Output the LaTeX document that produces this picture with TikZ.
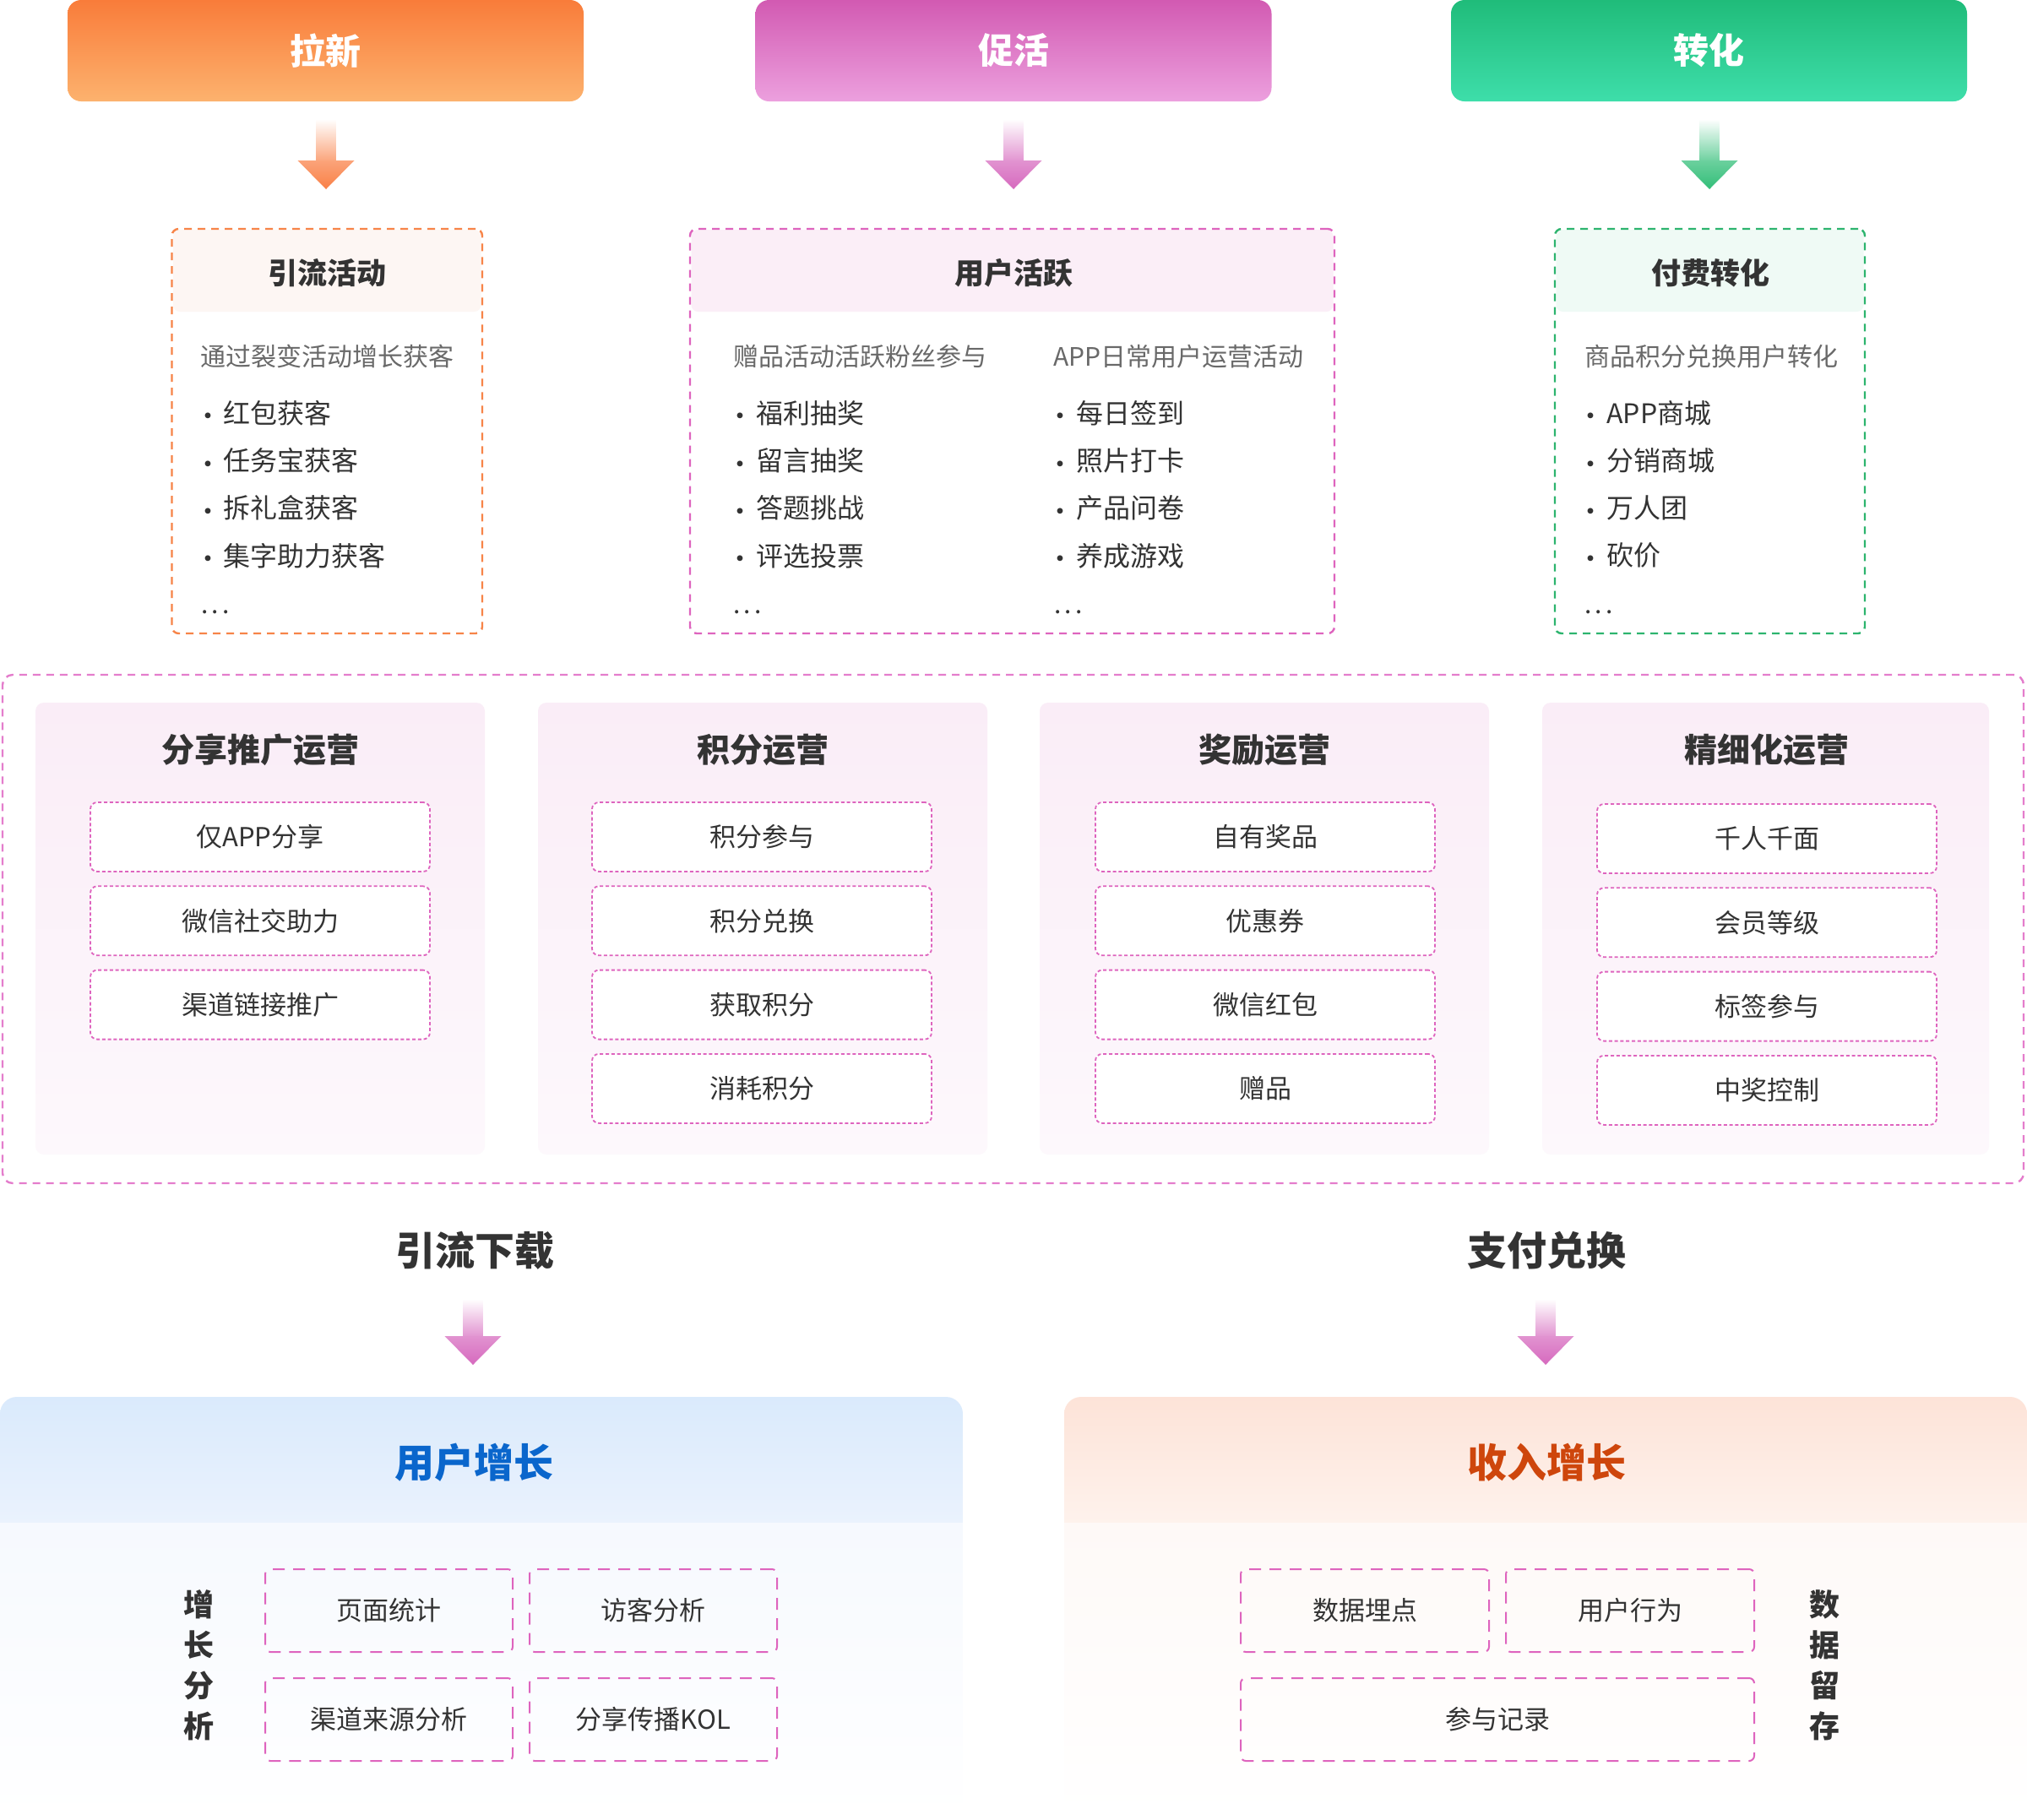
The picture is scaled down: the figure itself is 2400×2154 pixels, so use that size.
\documentclass[tikz,border=0pt]{standalone}
\usepackage{fontspec}
\setmainfont{Noto Sans CJK SC}
\usetikzlibrary{calc}
\definecolor{txt}{RGB}{51,51,51}
\definecolor{sub}{RGB}{105,105,105}
\definecolor{orT}{RGB}{249,124,58}
\definecolor{orB}{RGB}{252,178,110}
\definecolor{pkT}{RGB}{210,90,178}
\definecolor{pkB}{RGB}{236,160,222}
\definecolor{grT}{RGB}{32,188,122}
\definecolor{grB}{RGB}{62,222,170}
\definecolor{orA}{RGB}{249,128,70}
\definecolor{pkA}{RGB}{214,105,190}
\definecolor{grA}{RGB}{50,190,120}
\definecolor{orD}{RGB}{247,132,72}
\definecolor{pkD}{RGB}{222,100,190}
\definecolor{pkL}{RGB}{228,125,204}
\definecolor{grD}{RGB}{45,180,110}
\definecolor{hdOr}{RGB}{253,246,243}
\definecolor{hdPk}{RGB}{251,238,247}
\definecolor{hdGr}{RGB}{239,250,245}
\definecolor{pnT}{RGB}{250,237,247}
\definecolor{pnB}{RGB}{253,248,252}
\definecolor{blT}{RGB}{218,234,252}
\definecolor{blM}{RGB}{234,242,253}
\definecolor{blS}{RGB}{246,249,254}
\definecolor{peT}{RGB}{253,227,216}
\definecolor{peM}{RGB}{254,242,236}
\definecolor{peS}{RGB}{254,249,247}
\definecolor{blueTxt}{RGB}{10,102,204}
\definecolor{redTxt}{RGB}{206,70,12}
\newcommand\fatarrow[3]{%
  \path let \p1=(#1), \p2=(#2) in
    [top color=white, bottom color=#3!70] (\x1-5.75pt,\y1) rectangle (\x1+5.75pt,\y2+17pt);
  \path let \p1=(#1), \p2=(#2) in
    [top color=#3!72, bottom color=#3] (\x1-16.75pt,\y2+17pt) -- (\x1+16.75pt,\y2+17pt) -- (\x2,\y2) -- cycle;
}
\begin{document}
\begin{tikzpicture}[x=0.5pt,y=-0.5pt,
  toplab/.style={text=white,font=\bfseries\fontsize{21pt}{25pt}\selectfont,
    minimum width=305.5pt, minimum height=60pt, rounded corners=8pt, inner sep=0pt},
  actbox/.style={draw=#1, line width=1.2pt, dash pattern=on 4.5pt off 3.5pt,
    rounded corners=4pt, minimum height=239.5pt, inner sep=0pt},
  ttl/.style={text=txt,font=\bfseries\fontsize{17.5pt}{21pt}\selectfont, inner sep=0pt},
  subt/.style={text=sub,font=\fontsize{15pt}{18pt}\selectfont, anchor=west, inner sep=0pt},
  itm/.style={text=txt,font=\fontsize{16pt}{19pt}\selectfont, anchor=west, inner sep=0pt},
  bul/.style={text=txt,font=\fontsize{16pt}{19pt}\selectfont, inner sep=0pt},
  dots/.style={text=txt,font=\fontsize{15pt}{18pt}\selectfont, anchor=base west, inner sep=0pt},
  panel/.style={top color=pnT, bottom color=pnB, rounded corners=5pt,
    minimum width=266pt, minimum height=267.5pt, inner sep=0pt},
  pttl/.style={text=txt,font=\bfseries\fontsize{19.5pt}{23pt}\selectfont, inner sep=0pt},
  opbox/.style={draw=pkD, fill=white, line width=0.9pt, dash pattern=on 2pt off 1.4pt,
    rounded corners=4pt, minimum width=201pt, minimum height=41pt, inner sep=0pt,
    text=txt, font=\fontsize{15.5pt}{18pt}\selectfont},
  mid/.style={text=txt,font=\bfseries\fontsize{23.5pt}{28pt}\selectfont, inner sep=0pt},
  bigttl/.style={font=\bfseries\fontsize{23.5pt}{28pt}\selectfont, inner sep=0pt},
  vlab/.style={text=txt,font=\bfseries\fontsize{18pt}{24pt}\selectfont, align=center, inner sep=0pt},
  anbox/.style={draw=pkD, line width=1pt, dash pattern=on 7pt off 5pt,
    rounded corners=3pt, minimum height=49pt, inner sep=0pt,
    text=txt, font=\fontsize{15.5pt}{18pt}\selectfont},
]
\useasboundingbox[fill=white] (0,0) rectangle (2400,2154);

% ---------- top row ----------
\node[toplab, top color=orT, bottom color=orB] (lx) at (385.5,60) {拉新};
\node[toplab, top color=pkT, bottom color=pkB] (ch) at (1200,60) {促活};
\node[toplab, top color=grT, bottom color=grB] (zh) at (2023.5,60) {转化};

\coordinate (a1s) at (386,141);  \coordinate (a1t) at (386,224);
\coordinate (a2s) at (1200,141); \coordinate (a2t) at (1200,224);
\coordinate (a3s) at (2024,141); \coordinate (a3t) at (2024,224);
\fatarrow{a1s}{a1t}{orA}
\fatarrow{a2s}{a2t}{pkA}
\fatarrow{a3s}{a3t}{grA}

% ---------- second row ----------
\fill[hdOr, rounded corners=4pt] (205,272) rectangle (569.5,369);
\fill[hdPk, rounded corners=4pt] (818.5,272) rectangle (1578.5,369);
\fill[hdGr, rounded corners=4pt] (1842.5,272) rectangle (2206.5,369);
\node[actbox=orD, minimum width=183.75pt] (yl) at (387.25,510.5) {};
\node[actbox=pkD, minimum width=381.5pt] (yh) at (1198.5,510.5) {};
\node[actbox=grD, minimum width=183.5pt] (ff) at (2024.5,510.5) {};

\node[ttl] (ylt) at (387,323) {引流活动};
\node[ttl] (yht) at (1200,323) {用户活跃};
\node[ttl] (fft) at (2025,323) {付费转化};

\node[subt] (yls) at (237,422) {通过裂变活动增长获客};
\node[subt] (yhs1) at (868,422) {赠品活动活跃粉丝参与};
\node[subt] (yhs2) at (1247,422) {APP日常用户运营活动};
\node[subt] (ffs) at (1876,422) {商品积分兑换用户转化};

\foreach \t [count=\i] in {红包获客,任务宝获客,拆礼盒获客,集字助力获客}{
  \node[bul] (yld\i) at (246,{497+56.3*(\i-1)}) {·};
  \node[itm] (yli\i) at (264,{489+56.3*(\i-1)}) {\t};
}
\foreach \t [count=\i] in {福利抽奖,留言抽奖,答题挑战,评选投票}{
  \node[bul] (yhd\i) at (876,{497+56.3*(\i-1)}) {·};
  \node[itm] (yhi\i) at (895,{489+56.3*(\i-1)}) {\t};
}
\foreach \t [count=\i] in {每日签到,照片打卡,产品问卷,养成游戏}{
  \node[bul] (yhe\i) at (1255,{497+56.3*(\i-1)}) {·};
  \node[itm] (yhj\i) at (1274,{489+56.3*(\i-1)}) {\t};
}
\foreach \t [count=\i] in {APP商城,分销商城,万人团,砍价}{
  \node[bul] (ffd\i) at (1883,{497+56.3*(\i-1)}) {·};
  \node[itm] (ffi\i) at (1902,{489+56.3*(\i-1)}) {\t};
}
\node[dots] (yle) at (238,726) {.\kern2pt.\kern2pt.};
\node[dots] (yhe) at (868,726) {.\kern2pt.\kern2pt.};
\node[dots] (yhf) at (1248,726) {.\kern2pt.\kern2pt.};
\node[dots] (ffe) at (1876,726) {.\kern2pt.\kern2pt.};

% ---------- middle operations ----------
\node[draw=pkL, line width=1.2pt, dash pattern=on 4.5pt off 3.5pt, rounded corners=6pt,
  minimum width=1196.5pt, minimum height=301pt, inner sep=0pt] (ops) at (1199.5,1100) {};

\node[panel] (p1) at (308,1099.5) {};
\node[panel] (p2) at (903,1099.5) {};
\node[panel] (p3) at (1497,1099.5) {};
\node[panel, minimum width=264.5pt] (p4) at (2090.5,1099.5) {};

\node[pttl] (p1t) at (308,888) {分享推广运营};
\node[pttl] (p2t) at (903,888) {积分运营};
\node[pttl] (p3t) at (1497,888) {奖励运营};
\node[pttl] (p4t) at (2092,888) {精细化运营};

\foreach \t [count=\i] in {仅APP分享,微信社交助力,渠道链接推广}
  \node[opbox] (p1b\i) at (308,{991+99.3*(\i-1)}) {\t};
\foreach \t [count=\i] in {积分参与,积分兑换,获取积分,消耗积分}
  \node[opbox] (p2b\i) at (902,{991+99.3*(\i-1)}) {\t};
\foreach \t [count=\i] in {自有奖品,优惠券,微信红包,赠品}
  \node[opbox] (p3b\i) at (1498,{991+99.3*(\i-1)}) {\t};
\foreach \t [count=\i] in {千人千面,会员等级,标签参与,中奖控制}
  \node[opbox] (p4b\i) at (2092,{993+99.3*(\i-1)}) {\t};

% ---------- lower labels and arrows ----------
\node[mid] (yx) at (562,1481) {引流下载};
\node[mid] (zf) at (1831,1481) {支付兑换};
\coordinate (a4s) at (560,1538);  \coordinate (a4t) at (560,1616);
\coordinate (a5s) at (1830,1538); \coordinate (a5t) at (1830,1616);
\fatarrow{a4s}{a4t}{pkA}
\fatarrow{a5s}{a5t}{pkA}

% ---------- bottom panels ----------
\begin{scope}
  \clip[rounded corners=10pt] (0,1654) rectangle (1140,2200);
  \shade[top color=blT, bottom color=blM] (0,1654) rectangle (1140,1803);
  \shade[top color=blS, bottom color=white] (0,1803) rectangle (1140,2154);
\end{scope}
\begin{scope}
  \clip[rounded corners=10pt] (1260,1654) rectangle (2400,2200);
  \shade[top color=peT, bottom color=peM] (1260,1654) rectangle (2400,1803);
  \shade[top color=peS, bottom color=white] (1260,1803) rectangle (2400,2154);
\end{scope}
\node[bigttl, text=blueTxt] (yz) at (561,1732) {用户增长};
\node[bigttl, text=redTxt] (sr) at (1831,1732) {收入增长};

\node[vlab] (zzfx) at (235,1971.5) {增\\长\\分\\析};
\node[vlab] (sjlc) at (2160,1971.5) {数\\据\\留\\存};

\node[anbox, minimum width=146.5pt] (q1) at (460.5,1907) {页面统计};
\node[anbox, minimum width=146.5pt] (q2) at (773.5,1907) {访客分析};
\node[anbox, minimum width=146.5pt] (q3) at (460.5,2036) {渠道来源分析};
\node[anbox, minimum width=146.5pt] (q4) at (773.5,2036) {分享传播KOL};
\node[anbox, minimum width=147pt] (r1) at (1616,1907) {数据埋点};
\node[anbox, minimum width=147pt] (r2) at (1930,1907) {用户行为};
\node[anbox, minimum width=304pt] (r3) at (1773,2036) {参与记录};
\end{tikzpicture}
\end{document}
